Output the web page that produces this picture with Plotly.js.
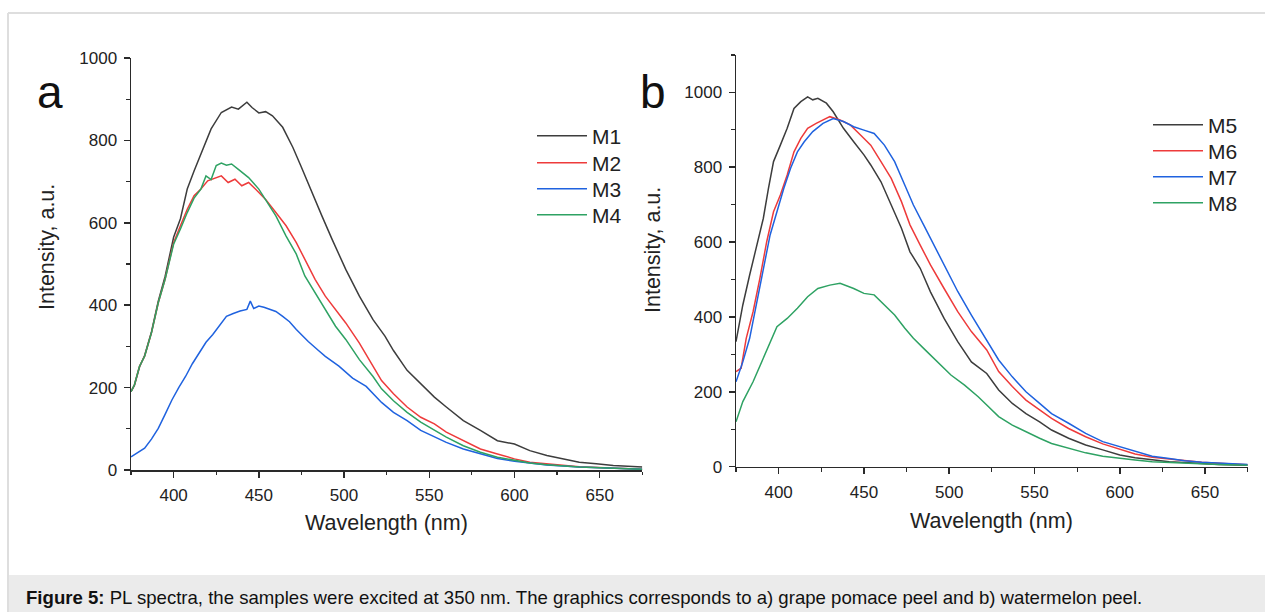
<!DOCTYPE html>
<html>
<head>
<meta charset="utf-8">
<script src="https://cdn.plot.ly/plotly-3.0.1.min.js"></script>
<style>
  html, body { margin: 0; padding: 0; background: #ffffff; }
  #chart { width: 1265px; height: 612px; }
</style>
</head>
<body>
<div id="chart"></div>
<script>
// ---------- Panel a : grape pomace peel (M1-M4) ----------
const wlM1  = [375,377,380,383,387,391,395,400,404,408,412,417,422,428,434,438,443,446,450,454,458,464,470,475,481,487,493,501,509,517,524,529,537,545,553,560,570,580,590,600,609,619,629,638,648,658,675];
const intM1 = [190,205,250,278,335,410,470,565,610,682,726,779,828,868,881,876,893,880,867,870,860,832,783,735,674,617,560,487,422,365,325,290,242,210,177,153,120,96,71,63,47,35,27,19,15,11,7];

const wlM2  = [375,377,380,383,387,391,395,400,404,408,412,416,420,424,428,432,436,440,444,448,454,460,466,472,477,483,489,495,501,509,517,522,529,537,545,553,560,570,580,590,600,609,619,638,675];
const intM2 = [190,207,252,276,333,406,463,552,593,633,666,682,702,708,714,698,706,690,698,682,657,625,593,552,511,463,422,390,357,308,252,217,185,153,128,112,92,71,51,39,27,19,15,8,2];

const wlM3  = [375,379,383,387,391,395,399,403,407,411,415,419,423,427,431,435,439,443,445,447,450,453,456,460,464,468,472,479,485,489,497,505,513,522,529,537,545,553,560,570,580,590,600,609,619,638,675];
const intM3 = [32,42,53,75,101,135,170,200,227,258,284,310,329,352,373,380,386,390,410,392,398,395,390,385,373,360,341,312,290,276,252,223,203,164,140,120,96,80,67,51,39,28,21,16,12,7,2];

const wlM4  = [375,377,380,383,387,391,395,400,404,408,412,416,419,422,425,428,431,434,438,444,450,455,460,466,472,477,483,489,495,501,509,517,522,529,537,545,553,560,570,580,590,600,609,619,638,675];
const intM4 = [190,207,252,276,333,406,463,548,585,625,660,682,714,705,739,745,740,743,730,710,682,650,617,568,524,471,430,390,349,317,268,227,197,168,140,116,96,80,59,43,31,23,17,13,7,2];

// ---------- Panel b : watermelon peel (M5-M8) ----------
const wlM5  = [375,379,383,387,391,394,397,401,405,409,413,417,420,423,428,432,438,444,450,454,460,466,472,477,483,489,497,505,513,522,529,537,545,553,560,570,580,590,600,609,619,629,638,648,658,675];
const intM5 = [334,432,512,592,663,743,815,859,904,957,975,988,980,984,971,948,904,868,833,806,761,699,637,574,530,467,396,334,280,249,205,169,142,120,98,76,58,45,31,24,18,13,11,8,6,4];

const wlM6  = [375,378,381,385,389,393,397,401,405,409,413,417,422,426,430,436,442,448,454,460,466,472,477,483,489,497,505,513,522,529,537,545,553,560,570,580,590,600,609,619,629,638,648,658,675];
const intM6 = [254,263,343,414,503,601,681,726,779,841,877,904,917,925,935,926,913,886,859,815,770,708,646,592,539,476,414,361,312,254,214,178,151,129,102,80,61,46,34,25,20,15,12,9,5];

const wlM7  = [375,379,383,387,391,395,399,403,407,411,415,420,426,432,438,444,450,456,462,468,474,479,485,491,497,505,513,522,529,537,545,553,560,570,580,590,600,609,619,629,638,648,658,675];
const intM7 = [227,280,343,432,521,619,681,743,797,841,868,895,917,930,922,908,899,890,859,815,752,699,646,592,539,468,405,338,285,240,200,169,142,116,89,67,53,40,28,22,16,12,10,6];

const wlM8  = [375,379,385,391,395,399,405,411,417,423,430,436,444,450,456,462,468,474,479,485,493,501,509,517,522,529,537,545,553,560,570,580,590,600,609,619,629,638,648,658,675];
const intM8 = [120,174,227,289,334,374,396,423,454,476,485,490,476,463,459,432,405,370,343,316,280,245,218,187,165,134,111,93,76,62,49,37,28,22,18,13,11,9,7,6,4];

const seriesNames = ['M1','M2','M3','M4','M5','M6','M7','M8'];
const xTitle = "Wavelength (nm)";
const yTitle = "Intensity, a.u.";
const caption = "<b>Figure 5:</b> PL spectra, the samples were excited at 350 nm. The graphics corresponds to a) grape pomace peel and b) watermelon peel.";

const cGray = '#3d3d3d', cRed = '#ee3b3b', cBlue = '#1f62df', cGreen = '#2ea263';
const FONT = 'Liberation Sans, Arial, sans-serif';

function tr(x, y, name, color, xa, ya, lg) {
  return { x: x, y: y, name: name, type: 'scatter', mode: 'lines', showlegend: true,
           line: { color: color, width: 1.5 }, xaxis: xa, yaxis: ya, legend: lg };
}

const data = [
  tr(wlM1, intM1, seriesNames[0], cGray,  'x', 'y', 'legend'),
  tr(wlM2, intM2, seriesNames[1], cRed,   'x', 'y', 'legend2'),
  tr(wlM3, intM3, seriesNames[2], cBlue,  'x', 'y', 'legend3'),
  tr(wlM4, intM4, seriesNames[3], cGreen, 'x', 'y', 'legend4'),
  tr(wlM5, intM5, seriesNames[4], cGray,  'x2', 'y2', 'legend5'),
  tr(wlM6, intM6, seriesNames[5], cRed,   'x2', 'y2', 'legend6'),
  tr(wlM7, intM7, seriesNames[6], cBlue,  'x2', 'y2', 'legend7'),
  tr(wlM8, intM8, seriesNames[7], cGreen, 'x2', 'y2', 'legend8')
];

const W = 1265, H = 612;
const px = v => v / W;
const py = v => 1 - v / H;

function axis(extra) {
  return Object.assign({
    showline: true, linecolor: '#2a2a2a', linewidth: 1.5,
    ticks: 'outside', ticklen: 6, tickwidth: 1.5, tickcolor: '#2a2a2a',
    showgrid: false, zeroline: false, automargin: false,
    tickfont: { family: FONT, size: 17, color: '#222' },
    ticklabelstandoff: 3
  }, extra);
}

function leg(xp, yp) {
  return { x: px(xp), y: py(yp), xanchor: 'left', yanchor: 'middle', bgcolor: 'rgba(0,0,0,0)',
           font: { family: FONT, size: 21, color: '#222' }, itemwidth: 50 };
}

const layout = {
  width: W, height: H, autosize: false,
  margin: { l: 0, r: 0, t: 0, b: 0 },
  showlegend: true,
  paper_bgcolor: '#ffffff', plot_bgcolor: '#ffffff',
  font: { family: FONT, color: '#222' },
  xaxis:  axis({ domain: [px(131), px(642.3)], range: [375, 675], dtick: 50, tick0: 400, anchor: 'y',
                 minor: { ticks: 'outside', dtick: 25, tick0: 375, ticklen: 3.5, tickwidth: 1.2, tickcolor: '#2a2a2a' } }),
  yaxis:  axis({ domain: [py(470), py(58.1)], range: [0, 1000], dtick: 200, anchor: 'x',
                 minor: { ticks: 'outside', dtick: 100, ticklen: 3.5, tickwidth: 1.2, tickcolor: '#2a2a2a' } }),
  xaxis2: axis({ domain: [px(736), px(1247.7)], range: [375, 675], dtick: 50, tick0: 400, anchor: 'y2',
                 minor: { ticks: 'outside', dtick: 25, tick0: 375, ticklen: 3.5, tickwidth: 1.2, tickcolor: '#2a2a2a' } }),
  yaxis2: axis({ domain: [py(466.7), py(54.9)], range: [0, 1100], dtick: 200, tick0: 0, anchor: 'x2',
                 minor: { ticks: 'outside', dtick: 100, ticklen: 3.5, tickwidth: 1.2, tickcolor: '#2a2a2a' } }),
  legend:  leg(532, 136),
  legend2: leg(532, 163),
  legend3: leg(532, 189),
  legend4: leg(532, 215),
  legend5: leg(1148, 125),
  legend6: leg(1148, 151),
  legend7: leg(1148, 177),
  legend8: leg(1148, 203),
  shapes: [
    { type: 'rect', xref: 'paper', yref: 'paper', x0: px(8), x1: 1, y0: 0, y1: py(575),
      fillcolor: '#ebebeb', line: { width: 0 }, layer: 'below' },
    { type: 'line', xref: 'paper', yref: 'paper', x0: px(8), x1: 1, y0: py(13), y1: py(13),
      line: { color: '#dedede', width: 2 } },
    { type: 'line', xref: 'paper', yref: 'paper', x0: px(8), x1: px(8), y0: py(13), y1: 0,
      line: { color: '#dedede', width: 2 } }
  ],
  annotations: [
    { text: 'a', xref: 'paper', yref: 'paper', x: px(50), y: py(92), xanchor: 'center', yanchor: 'middle',
      showarrow: false, font: { family: FONT, size: 46, color: '#111' } },
    { text: 'b', xref: 'paper', yref: 'paper', x: px(653), y: py(92), xanchor: 'center', yanchor: 'middle',
      showarrow: false, font: { family: FONT, size: 46, color: '#111' } },
    { text: yTitle, xref: 'paper', yref: 'paper', x: px(47), y: py(247), xanchor: 'center', yanchor: 'middle',
      textangle: -90, showarrow: false, font: { family: FONT, size: 21.5, color: '#222' } },
    { text: yTitle, xref: 'paper', yref: 'paper', x: px(653), y: py(250), xanchor: 'center', yanchor: 'middle',
      textangle: -90, showarrow: false, font: { family: FONT, size: 21.5, color: '#222' } },
    { text: xTitle, xref: 'paper', yref: 'paper', x: px(386), y: py(523), xanchor: 'center', yanchor: 'middle',
      showarrow: false, font: { family: FONT, size: 21.5, color: '#222' } },
    { text: xTitle, xref: 'paper', yref: 'paper', x: px(991), y: py(521), xanchor: 'center', yanchor: 'middle',
      showarrow: false, font: { family: FONT, size: 21.5, color: '#222' } },
    { text: caption, xref: 'paper', yref: 'paper', x: px(24), y: py(597), xanchor: 'left', yanchor: 'middle',
      showarrow: false, font: { family: FONT, size: 18.6, color: '#111' } }
  ]
};

Plotly.newPlot('chart', data, layout, { displayModeBar: false, staticPlot: true });
</script>
</body>
</html>
